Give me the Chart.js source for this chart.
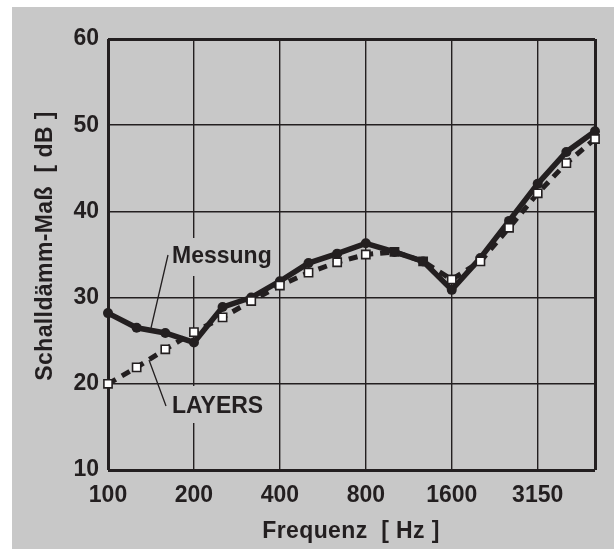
<!DOCTYPE html>
<html>
<head>
<meta charset="utf-8">
<script src="https://cdn.jsdelivr.net/npm/chart.js@4/dist/chart.umd.min.js"></script>
<style>
  body { margin: 0; background: #fff; }
  canvas { display: block; }
</style>
</head>
<body>
<canvas id="chart" width="614" height="549"></canvas>
<script>
// third-octave bands [Hz]
const frequencies = ["100", "125", "160", "200", "250", "315", "400", "500", "630",
  "800", "1000", "1250", "1600", "2000", "2500", "3150", "4000", "5000"];
const labeledFrequencies = ["100", "200", "400", "800", "1600", "3150"];
// Schalldämm-Maß [dB]
const messung = [28.2, 26.5, 25.9, 24.8, 28.9, 30.0, 31.9, 34.0, 35.1,
  36.3, 35.3, 34.2, 30.9, 34.6, 38.9, 43.2, 46.9, 49.3];
const layers = [20.0, 21.9, 24.0, 26.0, 27.7, 29.6, 31.4, 32.9, 34.1,
  35.0, 35.3, 34.2, 32.1, 34.2, 38.1, 42.1, 45.6, 48.4];
const yMin = 10;
const yMax = 60;
const yStep = 10;

const ink = "#231f20";
const paper = "#c8c8c8";
const font = "'Liberation Sans', Arial, sans-serif";

const decor = {
  id: "decor",
  beforeDraw(chart) {
    const { ctx, width, height } = chart;
    ctx.save();
    ctx.fillStyle = "#fff";
    ctx.fillRect(0, 0, width, height);
    ctx.fillStyle = paper;
    ctx.fillRect(12, 7, width - 12, height - 7);
    ctx.restore();
  },
  beforeDatasetsDraw(chart) {
    const { ctx } = chart;
    ctx.save();
    // label boxes hide the grid behind the text
    ctx.fillStyle = paper;
    ctx.fillRect(166, 238, 108, 38);
    ctx.fillRect(166, 386, 104, 37);

    ctx.strokeStyle = ink;
    ctx.lineWidth = 1.3;
    ctx.beginPath();
    ctx.moveTo(168, 255);
    ctx.lineTo(151, 328);
    ctx.moveTo(166, 406);
    ctx.lineTo(149, 360);
    ctx.stroke();

    ctx.fillStyle = ink;
    ctx.font = "bold 23px " + font;
    ctx.textBaseline = "alphabetic";
    ctx.textAlign = "left";
    ctx.fillText("Messung", 172, 263);
    ctx.fillText("LAYERS", 172, 413);

    // axis titles
    ctx.letterSpacing = "0.4px";
    ctx.textAlign = "center";
    ctx.fillText("Frequenz  [ Hz ]", 351, 538);
    ctx.translate(52, 246);
    ctx.rotate(-Math.PI / 2);
    ctx.fillText("Schalldämm-Maß  [ dB ]", 0, 0);
    ctx.restore();
  },
};

new Chart(document.getElementById("chart"), {
  type: "line",
  data: {
    labels: frequencies,
    datasets: [
      {
        label: "LAYERS",
        data: layers,
        borderColor: ink,
        borderWidth: 5,
        borderDash: [9, 7],
        pointStyle: "rect",
        pointRadius: 5.8,
        pointBorderWidth: 1.6,
        pointBorderColor: ink,
        pointBackgroundColor: frequencies.map((f) => (f === "1000" || f === "1250" ? ink : "#fff")),
        tension: 0,
        clip: false,
      },
      {
        label: "Messung",
        data: messung,
        borderColor: ink,
        borderWidth: 5.5,
        pointRadius: 5,
        pointBorderWidth: 0,
        pointBackgroundColor: ink,
        tension: 0,
        clip: false,
      },
    ],
  },
  options: {
    responsive: false,
    animation: false,
    layout: {
      autoPadding: false,
      padding: { left: 0, top: 39, right: 19, bottom: 0 },
    },
    plugins: {
      legend: { display: false },
      tooltip: { enabled: false },
    },
    scales: {
      x: {
        afterFit: (scale) => { scale.height = 79; },
        border: { display: false },
        grid: {
          drawTicks: false,
          color: (c) => (labeledFrequencies.includes(frequencies[c.index]) || c.index === frequencies.length - 1 ? ink : "rgba(0,0,0,0)"),
          lineWidth: (c) => (c.index === 0 || c.index === frequencies.length - 1 ? 3 : 1.4),
        },
        ticks: {
          autoSkip: false,
          maxRotation: 0,
          padding: 12,
          color: ink,
          font: { family: font, size: 23, weight: "bold" },
          callback: (v, i) => (labeledFrequencies.includes(frequencies[i]) ? frequencies[i] : ""),
        },
      },
      y: {
        min: yMin,
        max: yMax,
        afterFit: (scale) => { scale.width = 108; },
        border: { display: false },
        grid: {
          drawTicks: false,
          color: ink,
          lineWidth: (c) => (c.tick && (c.tick.value === yMin || c.tick.value === yMax) ? 3 : 1.4),
        },
        ticks: {
          stepSize: yStep,
          padding: 9,
          color: ink,
          font: { family: font, size: 23, weight: "bold" },
        },
      },
    },
  },
  plugins: [decor],
});
</script>
</body>
</html>
